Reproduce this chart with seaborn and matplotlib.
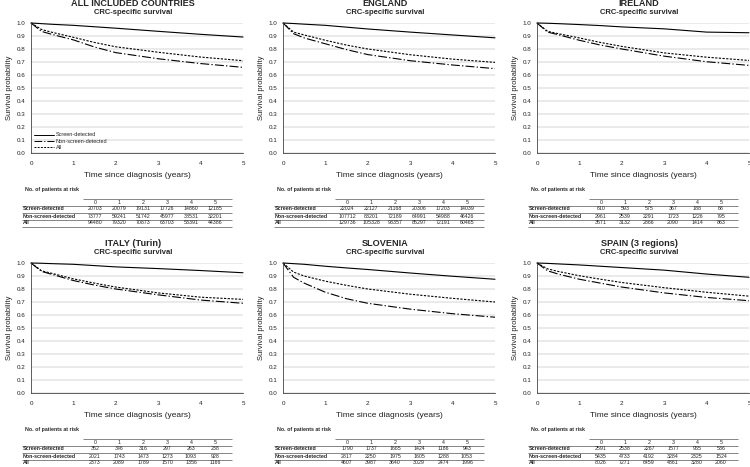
import numpy as np
import pandas as pd
import matplotlib
matplotlib.use("Agg")
import matplotlib.pyplot as plt
import seaborn as sns

sns.set_style("white")
plt.rcParams['font.family'] = ['Liberation Sans', 'DejaVu Sans']

# data
panels = ["ALL INCLUDED COUNTRIES", "ENGLAND", "IRELAND",
          "ITALY (Turin)", "SLOVENIA", "SPAIN (3 regions)"]
groups = ["Screen-detected", "Non-screen-detected", "All"]
times = [0, 0.25, 0.5, 1, 1.5, 2, 3, 4, 5]

surv_screen = {
    "ALL INCLUDED COUNTRIES": [1, 0.995, 0.99, 0.982, 0.971, 0.96, 0.936, 0.913, 0.892],
    "ENGLAND": [1, 0.996, 0.991, 0.982, 0.968, 0.954, 0.93, 0.908, 0.886],
    "IRELAND": [1, 0.998, 0.995, 0.988, 0.98, 0.97, 0.955, 0.93, 0.925],
    "ITALY (Turin)": [1, 0.998, 0.995, 0.99, 0.98, 0.97, 0.957, 0.942, 0.925],
    "SLOVENIA": [1, 0.995, 0.99, 0.975, 0.962, 0.95, 0.923, 0.898, 0.875],
    "SPAIN (3 regions)": [1, 0.997, 0.993, 0.985, 0.975, 0.965, 0.945, 0.915, 0.89],
}
surv_non = {
    "ALL INCLUDED COUNTRIES": [1, 0.935, 0.912, 0.87, 0.815, 0.772, 0.725, 0.688, 0.659],
    "ENGLAND": [1, 0.918, 0.885, 0.84, 0.795, 0.757, 0.71, 0.677, 0.649],
    "IRELAND": [1, 0.93, 0.91, 0.867, 0.83, 0.80, 0.745, 0.702, 0.674],
    "ITALY (Turin)": [1, 0.935, 0.912, 0.865, 0.83, 0.80, 0.755, 0.715, 0.69],
    "SLOVENIA": [1, 0.89, 0.845, 0.775, 0.725, 0.69, 0.645, 0.61, 0.583],
    "SPAIN (3 regions)": [1, 0.94, 0.915, 0.875, 0.845, 0.815, 0.77, 0.735, 0.71],
}
surv_all = {
    "ALL INCLUDED COUNTRIES": [1, 0.95, 0.928, 0.89, 0.85, 0.817, 0.775, 0.738, 0.71],
    "ENGLAND": [1, 0.93, 0.908, 0.867, 0.83, 0.80, 0.756, 0.722, 0.697],
    "IRELAND": [1, 0.936, 0.918, 0.885, 0.85, 0.82, 0.77, 0.737, 0.712],
    "ITALY (Turin)": [1, 0.94, 0.92, 0.878, 0.845, 0.815, 0.77, 0.737, 0.72],
    "SLOVENIA": [1, 0.93, 0.90, 0.86, 0.828, 0.80, 0.76, 0.728, 0.70],
    "SPAIN (3 regions)": [1, 0.955, 0.935, 0.902, 0.875, 0.85, 0.81, 0.775, 0.745],
}

risk_years = [0, 1, 2, 3, 4, 5]
risk_screen = {
    "ALL INCLUDED COUNTRIES": [20703, 20079, 19131, 17726, 14860, 12185],
    "ENGLAND": [22024, 22127, 21168, 20306, 17203, 14039],
    "IRELAND": [610, 593, 575, 367, 188, 68],
    "ITALY (Turin)": [352, 346, 316, 297, 263, 238],
    "SLOVENIA": [1790, 1737, 1665, 1424, 1186, 943],
    "SPAIN (3 regions)": [2591, 2538, 2267, 1577, 955, 536],
}
risk_non = {
    "ALL INCLUDED COUNTRIES": [73777, 59241, 51742, 45977, 38531, 32201],
    "ENGLAND": [107712, 83201, 72189, 64991, 54988, 46426],
    "IRELAND": [2961, 2539, 2291, 1723, 1226, 795],
    "ITALY (Turin)": [2021, 1743, 1473, 1273, 1093, 928],
    "SLOVENIA": [2817, 2250, 1975, 1605, 1288, 1053],
    "SPAIN (3 regions)": [5435, 4733, 4192, 3284, 2325, 1524],
}
risk_all = {
    "ALL INCLUDED COUNTRIES": [94480, 79320, 70873, 63703, 53391, 44386],
    "ENGLAND": [129736, 105328, 93357, 85297, 72191, 60465],
    "IRELAND": [3571, 3132, 2866, 2090, 1414, 863],
    "ITALY (Turin)": [2373, 2089, 1789, 1570, 1356, 1166],
    "SLOVENIA": [4607, 3987, 3640, 3029, 2474, 1996],
    "SPAIN (3 regions)": [8026, 7271, 6459, 4861, 3280, 2060],
}

# long table for seaborn
rows = []
for p in panels:
    for g, src in zip(groups, [surv_screen, surv_non, surv_all]):
        for t, s in zip(times, src[p]):
            rows.append({"panel": p, "group": g, "time": t, "surv": s})
df = pd.DataFrame(rows)

W, H = 750, 467
fig = plt.figure(figsize=(7.5, 4.67), dpi=100)

ov = fig.add_axes([0, 0, 1, 1])
ov.set_xlim(0, W)
ov.set_ylim(H, 0)
ov.axis("off")

col_left = [31, 283, 537]
ax_w, ax_top, ax_bot = 212, 23, 153
dashes = {"Screen-detected": "", "Non-screen-detected": (8, 2, 1.2, 2), "All": (2, 1.3)}

for i, p in enumerate(panels):
    r, c = divmod(i, 3)
    L = col_left[c]
    dy = 240 * r
    ax = fig.add_axes([L / W, 1 - (ax_bot + dy) / H, ax_w / W, (ax_bot - ax_top) / H])
    sub = df[df.panel == p]
    sns.lineplot(data=sub, x="time", y="surv", style="group", style_order=groups,
                 dashes=dashes, color="black", linewidth=0.8, ax=ax,
                 legend=(i == 0), errorbar=None)
    for ln in ax.lines:
        ln.set_clip_on(False)
    ax.set_xlim(0, 5)
    ax.set_ylim(0, 1.0)
    ax.set_xticks(range(6))
    ax.set_yticks(np.arange(0, 1.01, 0.1))
    ax.set_yticklabels([f"{v:.1f}" for v in np.arange(0, 1.01, 0.1)])
    ax.yaxis.grid(True, color="#e6e6e6", linewidth=1.2)
    ax.set_axisbelow(True)
    for s in ["top", "right"]:
        ax.spines[s].set_visible(False)
    for s in ["left", "bottom"]:
        ax.spines[s].set_linewidth(0.6)
        ax.spines[s].set_color("#444444")
    ax.tick_params(axis="both", labelsize=4.5, length=2.5, width=0.5,
                   colors="#444444", labelcolor="#222222", pad=1.5)
    ax.tick_params(axis="x", pad=3)
    ax.set_xlabel("")
    ax.set_ylabel("Survival probability", fontsize=5.5, labelpad=3, color="#222222")
    if i == 0:
        leg = ax.legend(loc="lower left", fontsize=4, frameon=False, handlelength=3.6,
                        borderaxespad=0.1, labelspacing=0.25, handletextpad=0.4)
        for h in leg.get_lines():
            h.set_linewidth(0.7)

    cx = L + ax_w / 2
    ov.text(cx - 4, 4 + dy, p, ha="center", va="center", fontsize=6.6, fontweight="bold")
    ov.text(cx - 4, 13 + dy, "CRC-specific survival", ha="center", va="center",
            fontsize=5.5, fontweight="bold")
    ov.text(cx, 175.5 + dy, "Time since diagnosis (years)", ha="center", va="center",
            fontsize=6, color="#222222")

    # risk table
    ov.text(L - 6, 189 + dy, "No. of patients at risk", ha="left", va="center",
            fontsize=3.8, fontweight="bold")
    x0, x1 = L - 9, L + 201
    cols = [L + 64 + 24 * k for k in range(6)]
    ov.hlines(198.5 + dy, L + 52, x1, color="#555555", lw=0.5)
    for yy in [205.5, 212.5, 219.5, 226.5]:
        ov.hlines(yy + dy, x0, x1, color="#555555", lw=0.5)
    for k, yr in enumerate(risk_years):
        ov.text(cols[k], 202 + dy, str(yr), ha="center", va="center", fontsize=3.8)
    for yy, g, src in zip([209, 216, 223], groups, [risk_screen, risk_non, risk_all]):
        ov.text(x0 + 1, yy + dy, g, ha="left", va="center", fontsize=3.8, fontweight="bold")
        for k, v in enumerate(src[p]):
            ov.text(cols[k], yy + dy, str(v), ha="center", va="center", fontsize=3.8)

fig.savefig("out.png", dpi=100)
